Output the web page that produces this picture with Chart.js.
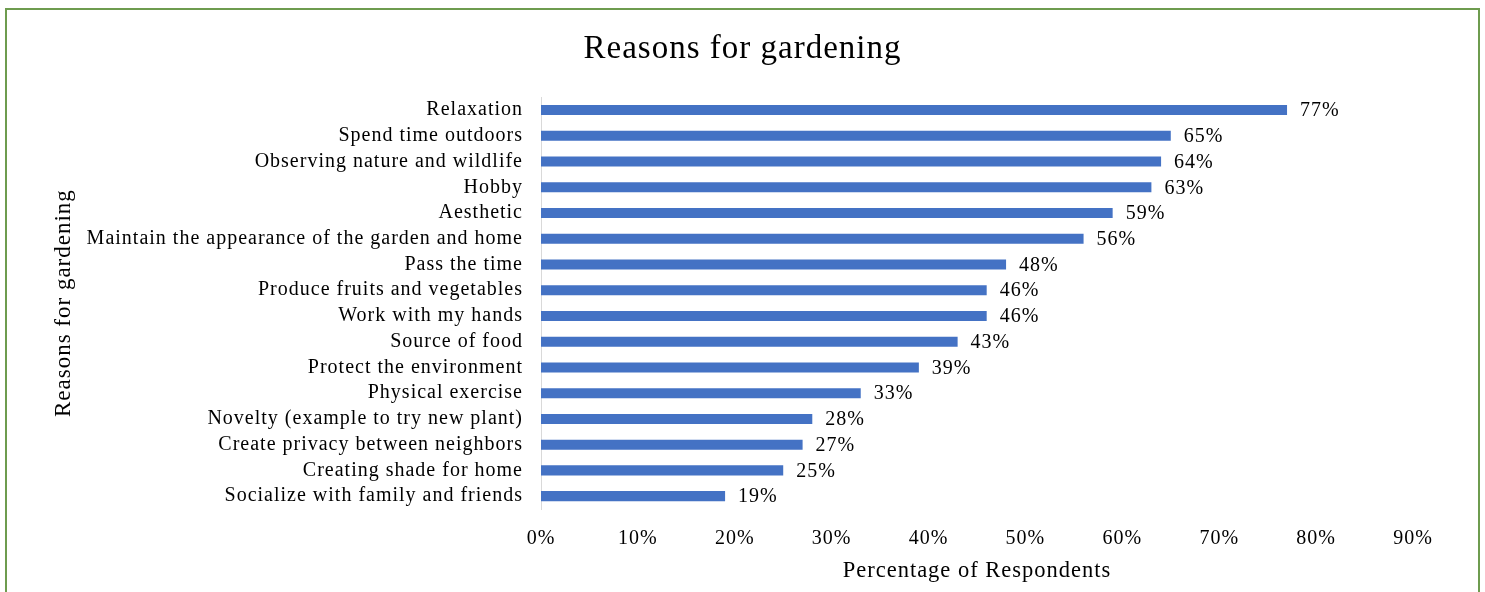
<!DOCTYPE html>
<html>
<head>
<meta charset="utf-8">
<script src="https://cdn.jsdelivr.net/npm/chart.js@4"></script>
<style>
    body { margin: 0; background: #fff; overflow: hidden; }
    .wrap { position: relative; width: 1485px; height: 592px; }
    .frame {
        position: absolute; left: 5px; top: 8px; width: 1471px; height: 620px;
        border: 2px solid #6e9c4f; border-bottom: none; pointer-events: none;
    }
    canvas { position: absolute; left: 0; top: 0; }
</style>
</head>
<body>
<div class="wrap">
    <canvas id="chart" width="1485" height="592"></canvas>
    <div class="frame"></div>
</div>
<script>
    const reasons = [
        'Relaxation',
        'Spend time outdoors',
        'Observing nature and wildlife',
        'Hobby',
        'Aesthetic',
        'Maintain the appearance of the garden and home',
        'Pass the time',
        'Produce fruits and vegetables',
        'Work with my hands',
        'Source of food',
        'Protect the environment',
        'Physical exercise',
        'Novelty (example to try new plant)',
        'Create privacy between neighbors',
        'Creating shade for home',
        'Socialize with family and friends'
    ];
    const percentages = [77, 65, 64, 63, 59, 56, 48, 46, 46, 43, 39, 33, 28, 27, 25, 19];
    const xTicks = [0, 10, 20, 30, 40, 50, 60, 70, 80, 90];

    const serif = "'Liberation Serif', 'Times New Roman', serif";

    // canvas state gets reset on resize, so set the spacing before every pass
    const spacing = {
        id: 'spacing',
        beforeLayout(chart) { chart.ctx.letterSpacing = '1px'; },
        beforeDraw(chart) { chart.ctx.letterSpacing = '1px'; }
    };

    // percentage text at the end of each bar
    const valueLabels = {
        id: 'valueLabels',
        afterDatasetsDraw(chart) {
            const ctx = chart.ctx;
            const meta = chart.getDatasetMeta(0);
            ctx.save();
            ctx.font = '20px ' + serif;
            ctx.fillStyle = '#000';
            ctx.textAlign = 'left';
            ctx.textBaseline = 'middle';
            meta.data.forEach((bar, i) => {
                ctx.fillText(percentages[i] + '%', bar.x + 13, bar.y + 1);
            });
            ctx.restore();
        }
    };

    const config = {
        type: 'bar',
        data: {
            labels: reasons,
            datasets: [{
                data: percentages,
                backgroundColor: '#4472c4',
                categoryPercentage: 1,
                barPercentage: 0.39
            }]
        },
        options: {
            indexAxis: 'y',
            responsive: false,
            animation: false,
            layout: { padding: { left: 72, right: 72, top: 0, bottom: 0 } },
            plugins: {
                legend: { display: false },
                tooltip: { enabled: false },
                title: {
                    display: true,
                    text: 'Reasons for gardening',
                    color: '#000',
                    font: { family: serif, size: 33, weight: 'normal' },
                    padding: { top: 30, bottom: 27.6 }
                }
            },
            scales: {
                x: {
                    min: 0,
                    max: 90,
                    afterBuildTicks: (axis) => { axis.ticks = xTicks.map(v => ({ value: v })); },
                    afterFit: (axis) => { axis.height = 83; },
                    grid: { display: false, drawTicks: false },
                    border: { display: false },
                    ticks: {
                        padding: 18,
                        color: '#000',
                        font: { family: serif, size: 20 },
                        callback: (v) => v + '%'
                    },
                    title: {
                        display: true,
                        text: 'Percentage of Respondents',
                        color: '#000',
                        font: { family: serif, size: 22.5 },
                        padding: { top: 0, bottom: 7 }
                    }
                },
                y: {
                    afterFit: (axis) => { axis.width = 469; },
                    grid: { display: false, drawTicks: false },
                    border: { display: true, color: '#d9d9d9', width: 1 },
                    ticks: {
                        padding: 18,
                        color: '#000',
                        font: { family: serif, size: 20 },
                        autoSkip: false
                    },
                    title: {
                        display: true,
                        text: 'Reasons for gardening',
                        color: '#000',
                        font: { family: serif, size: 23 },
                        // pulled back into the left margin
                        padding: { top: -21.8, bottom: 0 }
                    }
                }
            }
        },
        plugins: [spacing, valueLabels]
    };

    new Chart(document.getElementById('chart'), config);
</script>
</body>
</html>
